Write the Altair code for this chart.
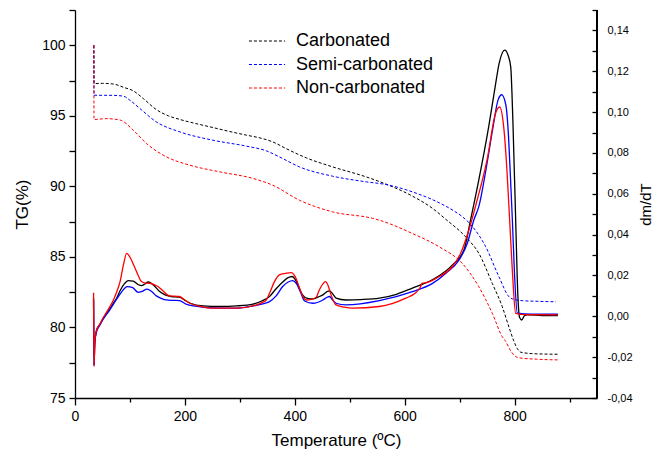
import altair as alt
import pandas as pd

SERIES = ["Carbonated", "Semi-carbonated", "Non-carbonated"]
COLORS = ["#000000", "#0000ff", "#ff0000"]

# ---- TG curves (left axis, dashed) ----
carb_T = [34.3, 34.6, 50, 70, 90, 106, 125, 148, 170, 191, 220, 251, 280, 312, 340, 360, 384, 421, 469, 530, 566, 614, 651, 675, 711, 735, 759.5, 777.6, 790, 798, 805, 811, 830, 850, 879]
carb_TG = [100, 97.29, 97.3, 97.25, 97.0, 96.77, 96.2, 95.44, 95.0, 94.74, 94.45, 94.17, 93.9, 93.63, 93.4, 93.15, 92.68, 92.02, 91.38, 90.67, 90.16, 89.31, 88.43, 87.66, 86.42, 85.25, 83.12, 81.47, 80.0, 79.1, 78.5, 78.25, 78.15, 78.12, 78.1]

semi_T = [34.3, 34.6, 70, 88, 100, 118, 148, 191, 251, 312, 348, 372, 408.5, 469, 530, 566, 614, 663, 690, 705, 720, 747.5, 771.6, 790, 800, 814, 845, 875]
semi_TG = [100, 96.46, 96.45, 96.39, 96.1, 95.52, 94.57, 93.86, 93.27, 92.85, 92.52, 92.09, 91.38, 90.72, 90.32, 90.13, 89.61, 88.83, 88.25, 87.85, 87.3, 85.72, 83.59, 82.17, 81.98, 81.9, 81.85, 81.82]

non_T = [34.3, 34.6, 57, 82, 106, 130, 166.5, 209, 263, 324, 360, 408.5, 469, 542, 554, 614, 663, 705, 735, 759.5, 777.6, 784, 792, 800, 808, 840, 879]
non_TG = [100, 94.74, 94.8, 94.7, 93.98, 93.04, 92.09, 91.5, 91.03, 90.56, 90.08, 89.02, 88.19, 87.73, 87.6, 86.66, 85.71, 84.53, 82.88, 81.0, 79.34, 79.0, 78.4, 78.0, 77.85, 77.75, 77.7]

# ---- DTG curves (right axis, solid) ----
carb_dT = [33.8, 34.6, 36, 39, 45, 51, 57, 63, 70, 76, 82, 90, 97, 106, 114, 121, 127, 133, 142, 154, 165, 175, 190, 200, 210, 233, 263, 294, 324, 340, 354, 366, 378, 387, 395, 401, 407, 414, 423, 433, 443, 451, 458, 463, 469, 475, 493, 520, 554, 585, 614, 651, 687, 708, 720, 735, 753, 765, 772, 782, 788, 793, 797, 802, 806, 809, 813, 818, 823, 850, 879]
carb_D = [0.009, -0.024, -0.013, -0.007, -0.004, -0.0012, 0.0012, 0.0035, 0.0065, 0.009, 0.0125, 0.016, 0.0175, 0.0172, 0.0157, 0.015, 0.0158, 0.0168, 0.0155, 0.0121, 0.0104, 0.0097, 0.0094, 0.0078, 0.0064, 0.0051, 0.0048, 0.0051, 0.006, 0.0075, 0.0097, 0.0135, 0.0168, 0.0188, 0.0195, 0.018, 0.0146, 0.0105, 0.0088, 0.0085, 0.0095, 0.0105, 0.012, 0.0125, 0.011, 0.0089, 0.008, 0.0082, 0.0089, 0.0108, 0.0138, 0.018, 0.0252, 0.0326, 0.0473, 0.0669, 0.093, 0.113, 0.124, 0.1304, 0.128, 0.122, 0.095, 0.047, 0.01, -0.0005, -0.0018, 0.0003, 0.0007, 0.0004, 0.0003]

semi_dT = [33.8, 34.6, 36, 39, 45, 51, 57, 63, 70, 76, 85, 95, 105, 115, 122, 131, 140, 148, 157, 166, 178, 190, 202, 215, 263, 294, 324, 340, 354, 366, 378, 388, 396, 403, 410, 418, 433, 451, 458, 463, 469, 475, 493, 554, 614, 650, 675, 699, 714, 726, 735, 748, 760, 770, 776.5, 784, 789, 793, 796, 800, 805, 830, 879]
semi_D = [0.008, -0.024, -0.013, -0.0078, -0.0045, -0.0015, 0.0008, 0.003, 0.006, 0.0085, 0.012, 0.0145, 0.014, 0.0117, 0.0122, 0.0133, 0.012, 0.01, 0.0088, 0.008, 0.0078, 0.0077, 0.006, 0.0051, 0.004, 0.004, 0.0051, 0.006, 0.0072, 0.01, 0.0146, 0.0168, 0.0175, 0.016, 0.012, 0.0075, 0.0064, 0.008, 0.0092, 0.0097, 0.008, 0.0064, 0.0056, 0.0077, 0.0121, 0.016, 0.0211, 0.0276, 0.0358, 0.0473, 0.0538, 0.072, 0.0914, 0.106, 0.1085, 0.1036, 0.088, 0.065, 0.047, 0.02, 0.0015, 0.001, 0.001]

non_dT = [33.8, 34.6, 36, 39, 45, 51, 57, 63, 70, 76, 82, 88, 94, 100, 106, 115, 121, 128, 136, 144, 151, 160, 172, 190, 200, 209, 230, 251, 294, 330, 341, 348, 354, 363, 372, 383, 393, 402, 407, 412, 421, 430, 439, 444, 448, 456, 460, 466, 475, 490, 505, 554, 602, 620, 628, 632, 640, 663, 687, 702, 717, 730, 750, 765.6, 772.8, 780.7, 786, 791, 796, 802, 820, 879]
non_D = [0.0115, -0.0246, -0.013, -0.007, -0.004, -0.0008, 0.0018, 0.0045, 0.008, 0.012, 0.017, 0.025, 0.0308, 0.029, 0.0256, 0.02, 0.017, 0.0163, 0.0162, 0.0155, 0.0146, 0.0125, 0.01, 0.0097, 0.008, 0.0064, 0.0048, 0.004, 0.004, 0.0055, 0.0068, 0.008, 0.0113, 0.017, 0.0203, 0.021, 0.0214, 0.0187, 0.015, 0.0113, 0.008, 0.0083, 0.0094, 0.0125, 0.0146, 0.017, 0.0155, 0.0105, 0.0056, 0.0045, 0.004, 0.0048, 0.0089, 0.0115, 0.014, 0.0162, 0.0165, 0.0195, 0.0244, 0.031, 0.0424, 0.055, 0.0767, 0.0996, 0.1025, 0.0914, 0.072, 0.0473, 0.022, 0.0015, 0.0008, 0.0007]

X_TICKS = [0, 100, 200, 300, 400, 500, 600, 700, 800, 900]
TG_TICKS = [75, 77.5, 80, 82.5, 85, 87.5, 90, 92.5, 95, 97.5, 100, 102.5]
DTG_TICKS = [-0.04, -0.03, -0.02, -0.01, 0.0, 0.01, 0.02, 0.03, 0.04, 0.05, 0.06, 0.07,
             0.08, 0.09, 0.10, 0.11, 0.12, 0.13, 0.14, 0.15]

tg_rows = []
for name, ts, vs in [(SERIES[0], carb_T, carb_TG), (SERIES[1], semi_T, semi_TG), (SERIES[2], non_T, non_TG)]:
    for t, v in zip(ts, vs):
        tg_rows.append({"series": name, "T": t, "TG": v})
tg_df = pd.DataFrame(tg_rows)

dtg_rows = []
for name, ts, vs in [(SERIES[0], carb_dT, carb_D), (SERIES[1], semi_dT, semi_D), (SERIES[2], non_dT, non_D)]:
    for t, v in zip(ts, vs):
        dtg_rows.append({"series": name, "T": t, "DTG": v})
dtg_df = pd.DataFrame(dtg_rows)

W, H = 522, 388
FONT = "Liberation Sans"

x_enc = alt.X(
    "T:Q",
    scale=alt.Scale(domain=[0, 950], nice=False, zero=False),
    axis=alt.Axis(
        title="Temperature (ºC)",
        values=X_TICKS,
        labelExpr="datum.value % 200 === 0 ? datum.label : ''",
        tickSize={"condition": {"test": "datum.value % 200 === 0", "value": 7}, "value": 4},
        labelPadding=4,
        labelFlush=False,
        labelFontSize=14,
        titleFontSize=17,
        titlePadding=9,
        titleFontWeight="normal",
    ),
)

tg = alt.Chart(tg_df).mark_line(strokeDash=[3, 2], strokeWidth=1, interpolate="monotone").encode(
    x=x_enc,
    y=alt.Y(
        "TG:Q",
        scale=alt.Scale(domain=[75, 102.5], nice=False, zero=False),
        axis=alt.Axis(
            title="TG(%)",
            orient="left",
            values=TG_TICKS,
            labelExpr="datum.value % 5 === 0 ? datum.label : ''",
            tickSize=6,
            labelPadding=4,
            labelFlush=False,
            labelFontSize=14,
            titleFontSize=17,
            titlePadding=10,
            titleFontWeight="normal",
        ),
    ),
    color=alt.Color(
        "series:N",
        scale=alt.Scale(domain=SERIES, range=COLORS),
        sort=SERIES,
        legend=alt.Legend(
            title=None,
            orient="none",
            legendX=183,
            legendY=22,
            symbolType="M-3,0H3",
            symbolSize=145,
            symbolStrokeWidth=1,
            symbolDash=[3, 2],
            labelFontSize=18,
            labelFont=FONT,
            labelOffset=20,
            rowPadding=5.5,
            padding=0,
        ),
    ),
    order=alt.Order("T:Q"),
)

dtg = alt.Chart(dtg_df).mark_line(strokeWidth=1.3, interpolate="monotone").encode(
    x=alt.X("T:Q"),
    y=alt.Y(
        "DTG:Q",
        scale=alt.Scale(domain=[-0.04, 0.15], nice=False, zero=False),
        axis=alt.Axis(
            title="dm/dT",
            orient="right",
            values=DTG_TICKS,
            labelExpr="abs(round(datum.value*100)) % 2 === 0 ? replace((datum.value < -0.0001 ? '-' : '') + format(abs(datum.value), '.2f'), '.', ',') : ''",
            tickSize=5,
            offset=-5,
            domain=False,
            labelPadding=10,
            labelFlush=False,
            labelFontSize=11,
            titleFontSize=15,
            titleAngle=270,
            titlePadding=21,
            titleFontWeight="normal",
        ),
    ),
    color=alt.Color("series:N", scale=alt.Scale(domain=SERIES, range=COLORS), legend=None),
    order=alt.Order("T:Q"),
)

frame = alt.Chart(tg_df).mark_rule(color="black", strokeWidth=1.3).encode(
    x=alt.value(W), y=alt.value(0), y2=alt.value(H)
)

chart = (
    alt.layer(tg, dtg, frame)
    .resolve_scale(y="independent", color="independent")
    .properties(
        width=W,
        height=H,
        autosize=alt.AutoSizeParams(type="none"),
        padding={"left": 67, "top": 2, "right": 61, "bottom": 56},
    )
    .configure_view(stroke=None)
    .configure_axis(
        grid=False,
        domainColor="black",
        tickColor="black",
        labelColor="black",
        titleColor="black",
        domainWidth=1.3,
        tickWidth=1.3,
        labelFont=FONT,
        titleFont=FONT,
    )
    .configure_legend(labelColor="black")
)

chart.save("out.html", embed_options={"renderer": "svg", "actions": False})
